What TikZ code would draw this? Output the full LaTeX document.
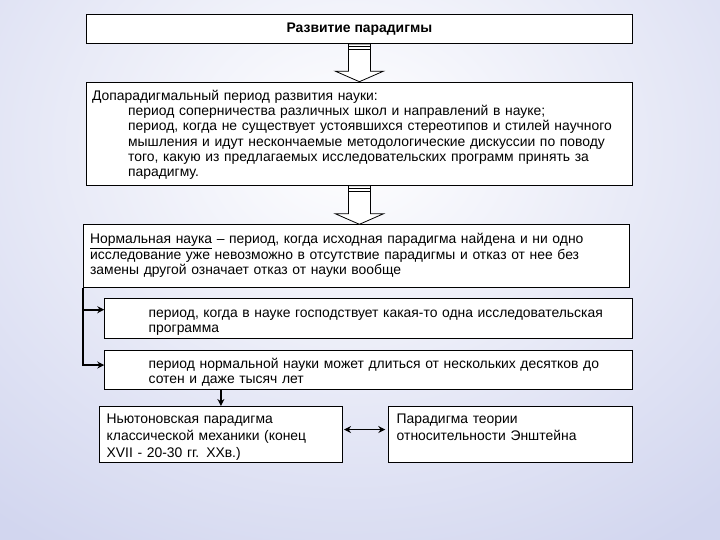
\documentclass[tikz,border=0pt]{standalone}
\usepackage{fontspec}
\setmainfont{Liberation Sans}
\usepackage{tikz}
\usetikzlibrary{arrows.meta,calc}
\definecolor{bgblue}{RGB}{210,214,239}
\newcommand{\ind}{\hspace*{36pt}}
\newcommand{\bigarrow}[2]{%
\draw[blockarr] ($(#1.south)+(-11,0)$) -- ($(#1.south |- #2.north)+(-11,-10.5)$) -- ($(#1.south |- #2.north)+(-24,-10.5)$)
  -- (#1.south |- #2.north) -- ($(#1.south |- #2.north)+(24,-10.5)$) -- ($(#1.south |- #2.north)+(11,-10.5)$) -- ($(#1.south)+(11,0)$) -- cycle;
\draw[line width=0.8pt] ($(#1.south)+(-11,2.8)$) -- ++(22,0) ($(#1.south)+(-11,5.6)$) -- ++(22,0);}

\begin{document}
\begin{tikzpicture}[x=1pt,y=-1pt,
  box/.style={draw,line width=0.8pt,fill=white,anchor=north west,align=left,inner ysep=0pt,
    font=\fontsize{13.9}{15.3}\selectfont},
  lowbox/.style={box,font=\fontsize{13.9}{16.7}\selectfont},
  blockarr/.style={draw,line width=0.8pt,fill=white},
  conn/.style={line width=1.8pt,-{Stealth[length=7pt,width=7pt]}}]
\useasboundingbox (0,0) rectangle (720,540);
\begin{scope}
\clip (0,0) rectangle (720,540);
\shade[inner color=white,outer color=bgblue] (-220,-330) rectangle (920,620);
\end{scope}
% boxes
\node[box,align=center,minimum width=546.6pt,minimum height=29pt,font=\fontsize{13.9}{15.3}\selectfont\bfseries]
  (title) at (85.7,14.3) {Развитие парадигмы};
\node[box,inner xsep=6pt,text width=534.6pt,text height=18.3pt,text depth=85pt] (prep) at (85.7,81.7)
  {Допарадигмальный период развития науки:\\
   \ind период соперничества различных школ и направлений в науке;\\
   \ind период, когда не существует устоявшихся стереотипов и стилей научного\\
   \ind мышления и идут нескончаемые методологические дискуссии по поводу\\
   \ind того, какую из предлагаемых исследовательских программ принять за\\
   \ind парадигму.};
\node[box,inner xsep=7pt,text width=532.3pt,text height=19pt,text depth=43.4pt] (normal) at (82.7,224.3)
  {\underline{Нормальная наука} – период, когда исходная парадигма найдена и ни одно\\
   исследование уже невозможно в отсутствие парадигмы и отказ от нее без\\
   замены другой означает отказ от науки вообще};
\node[box,inner xsep=6pt,text width=515.4pt,text height=18.4pt,text depth=21.6pt] (dom) at (104.3,298.3)
  {\hspace*{38pt}период, когда в науке господствует какая-то одна исследовательская\\
   \hspace*{38pt}программа};
\node[box,inner xsep=6pt,text width=515.4pt,text height=18pt,text depth=21.3pt] (dur) at (104.3,350)
  {\hspace*{38pt}период нормальной науки может длиться от нескольких десятков до\\
   \hspace*{38pt}сотен и даже тысяч лет};
\node[lowbox,inner xsep=7pt,text width=228.4pt,text height=17.3pt,text depth=39pt] (newton) at (99.3,406)
  {Ньютоновская парадигма\\
   классической механики (конец\\
   XVII - 20-30 гг. XXв.)};
\node[lowbox,inner xsep=8pt,text width=227.7pt,text height=17.3pt,text depth=39pt] (einst) at (388.3,406)
  {Парадигма теории\\
   относительности Энштейна};
% connectors
\bigarrow{title}{prep}
\bigarrow{prep}{normal}
\draw[conn] (normal.south west) |- ([yshift=9pt]dom.west);
\draw[conn] (normal.south west) |- ([yshift=5pt]dur.west);
\draw[conn] (newton.north |- dur.south) -- (newton.north);
\draw[line width=1.8pt,{Stealth[length=7pt,width=7pt]}-{Stealth[length=7pt,width=7pt]}]
  ([xshift=1.5pt,yshift=5pt]newton.east) -- ([xshift=-3pt,yshift=5pt]newton.east -| einst.west);
\end{tikzpicture}
\end{document}
